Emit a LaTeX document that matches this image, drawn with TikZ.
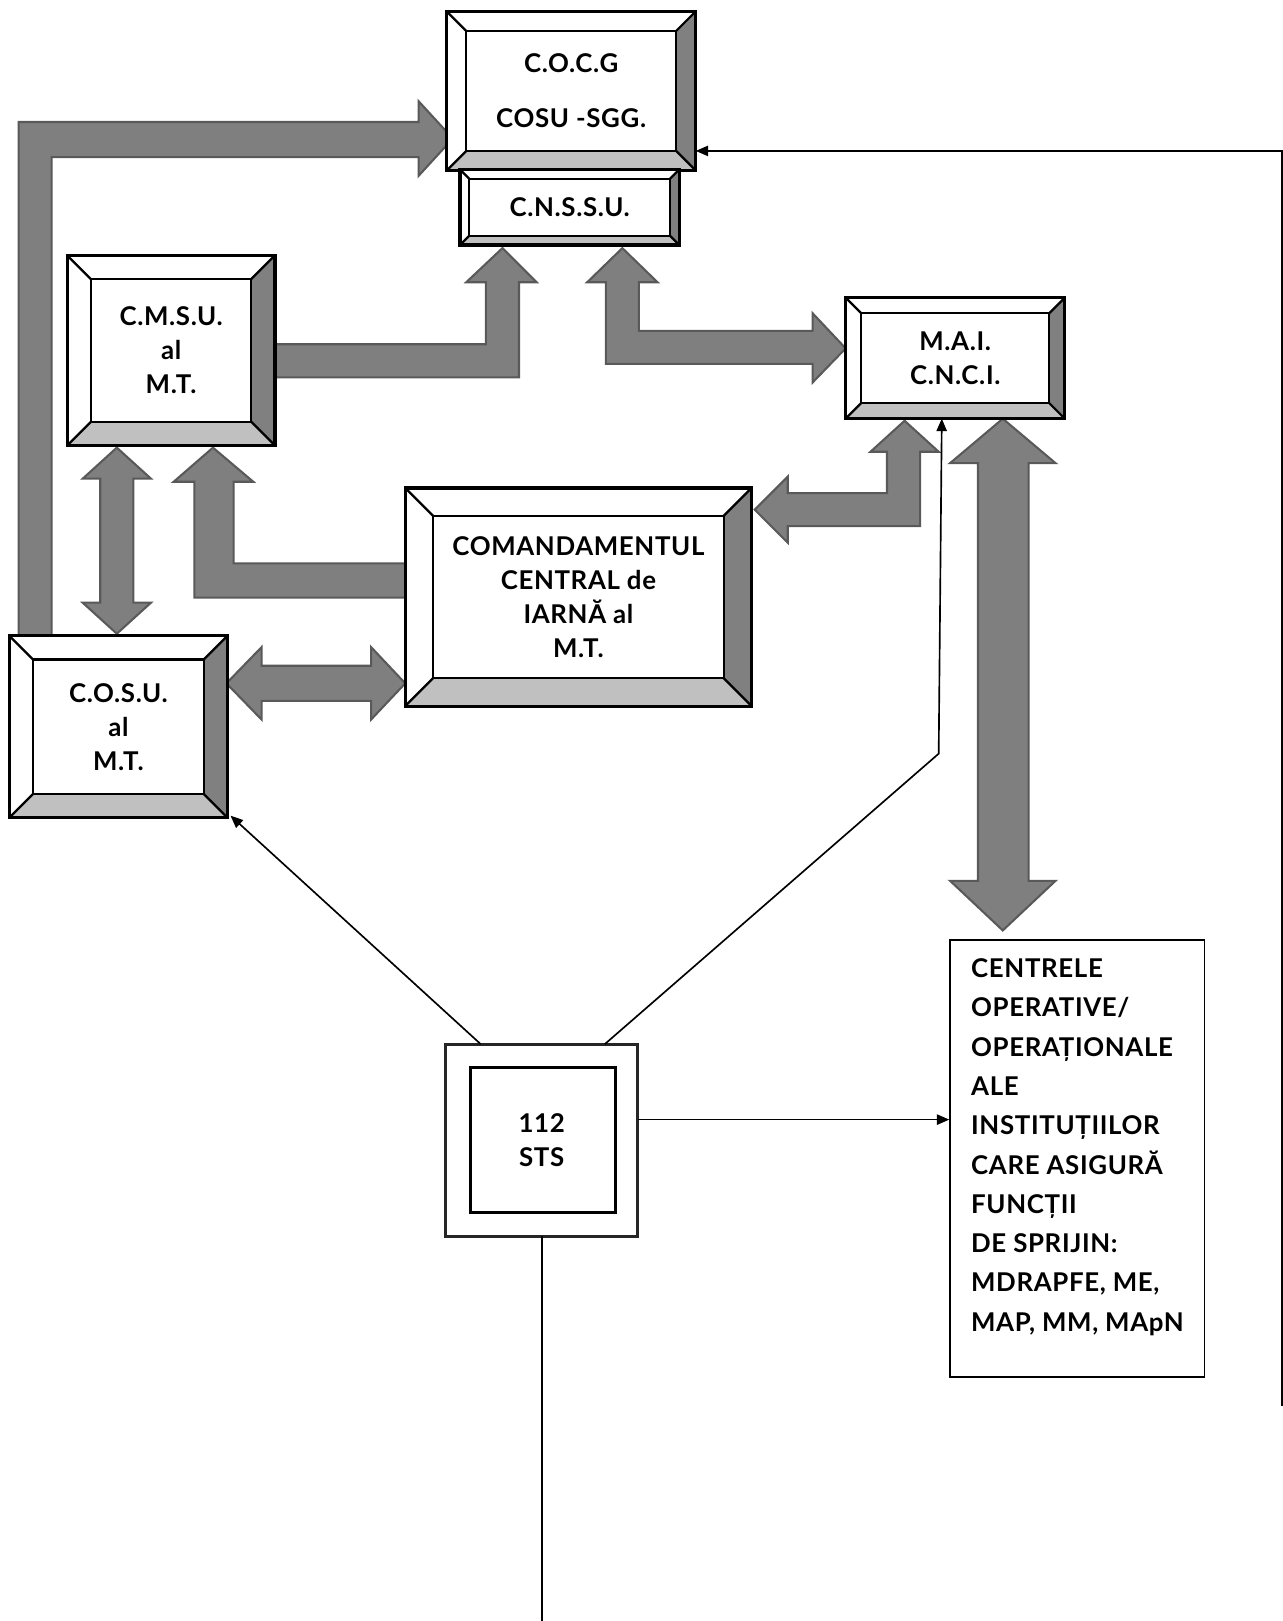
\documentclass[tikz,border=0pt]{standalone}
\usepackage{fontspec}
\setmainfont{Lato}[LetterSpace=2.5]
\usetikzlibrary{arrows.meta,calc}
\definecolor{bevdark}{HTML}{808080}
\definecolor{bevlight}{HTML}{C0C0C0}
\definecolor{blockfill}{HTML}{7F7F7F}
\definecolor{blockline}{HTML}{595959}
\tikzset{
  innerline/.style={draw=black,line width=1.1pt},
  outerline/.style={draw=black,line width=1.5pt},
  boxtext/.style={inner sep=0pt,outer sep=0pt,align=center,font=\fontsize{12.5}{16.5}\selectfont\bfseries},
  blockarrow/.style={fill=blockfill,draw=blockline,line width=1pt,line join=miter},
  conn/.style={draw=black,line width=0.8pt},
  arr/.style={conn,-{Triangle[length=6pt,width=5pt]}}
}
\newcommand{\bevbox}[7]{%
  \fill[white] (#2,#3) rectangle (#4,#5);
  \fill[bevdark] (#4,#3) -- (#4,#5) -- ({#4-#6},{#5-#6}) -- ({#4-#6},{#3+#6}) -- cycle;
  \fill[bevlight] (#2,#5) -- (#4,#5) -- ({#4-#6},{#5-#6}) -- ({#2+#6},{#5-#6}) -- cycle;
  \draw[innerline] ({#2+#6},{#3+#6}) rectangle ({#4-#6},{#5-#6});
  \draw[innerline] (#2,#3) -- ({#2+#6},{#3+#6}) (#4,#3) -- ({#4-#6},{#3+#6})
     (#2,#5) -- ({#2+#6},{#5-#6}) (#4,#5) -- ({#4-#6},{#5-#6});
  \node[boxtext,minimum width={(#4-#2)*0.5pt},minimum height={(#5-#3)*0.5pt}] (#1) at ({(#2+#4)/2},{(#3+#5)/2}) {#7};
  \draw[outerline] (#1.north west) rectangle (#1.south east);
}
\begin{document}
\begin{tikzpicture}[x=0.5pt,y=-0.5pt]
\useasboundingbox (0,0) rectangle (1241,1568);

% block arrows
\draw[blockarrow] (18,617) -- (18,118) -- (405,118) -- (405,98) -- (438,134) -- (405,170) -- (405,152) -- (50,152) -- (50,617) -- cycle;
\draw[blockarrow] (266,333) -- (470,333) -- (470,273) -- (451,273) -- (486,240) -- (519,273) -- (502,273) -- (502,365) -- (266,365) -- cycle;
\draw[blockarrow] (602,240) -- (636,273) -- (618,273) -- (618,320) -- (786,320) -- (786,303) -- (818,337) -- (786,370) -- (786,352) -- (586,352) -- (586,273) -- (568,273) -- cycle;
\draw[blockarrow] (875,407) -- (908,437) -- (890,437) -- (890,509) -- (762,509) -- (762,525) -- (730,493) -- (762,461) -- (762,477) -- (858,477) -- (858,437) -- (842,437) -- cycle;
\draw[blockarrow] (970,405) -- (1021,448) -- (995,448) -- (995,852) -- (1021,852) -- (970,900) -- (919,852) -- (946,852) -- (946,448) -- (919,448) -- cycle;
\draw[blockarrow] (113,433) -- (146,463) -- (129,463) -- (129,583) -- (146,583) -- (113,613) -- (80,583) -- (97,583) -- (97,463) -- (80,463) -- cycle;
\draw[blockarrow] (392,545) -- (226,545) -- (226,466) -- (245,466) -- (206,433) -- (168,466) -- (188,466) -- (188,578) -- (392,578) -- cycle;
\draw[blockarrow] (219,661) -- (253,626) -- (253,644) -- (359,644) -- (359,626) -- (392,661) -- (359,696) -- (359,678) -- (253,678) -- (253,696) -- cycle;

% beveled boxes
\bevbox{cocg}{432}{11}{673}{165}{19}{C.O.C.G\\[10pt]COSU -SGG.}
\bevbox{cnssu}{445}{164}{657}{237}{9}{C.N.S.S.U.}
\bevbox{cmsu}{65}{247}{266}{431}{23}{C.M.S.U.\\al\\M.T.}
\bevbox{mai}{818}{288}{1030}{405}{15}{M.A.I.\\C.N.C.I.}
\bevbox{cci}{392}{472}{727}{683}{27}{COMANDAMENTUL\\CENTRAL de\\IARNĂ al\\M.T.}
\bevbox{cosu}{9}{615}{220}{791}{23}{C.O.S.U.\\al\\M.T.}

% 112 STS
\node[boxtext,minimum width=93pt,minimum height=93pt,draw=black!85,line width=1.5pt,fill=white] (sts) at (524,1103) {112\\STS};
\draw[innerline,line width=1.5pt] (455,1033) rectangle (595,1173);

% centrele
\node[minimum width=123pt,minimum height=211.5pt,draw=black,line width=0.8pt,inner sep=0pt] (centrele) at (1042,1120.5) {};
\node[anchor=north west,align=left,inner sep=0pt,font=\fontsize{12.5}{19}\selectfont\bfseries] (centreletext) at (939,927)
 {CENTRELE\\OPERATIVE/\\OPERAȚIONALE\\ALE\\INSTITUȚIILOR\\CARE ASIGURĂ\\FUNCȚII\\DE SPRIJIN:\\MDRAPFE, ME,\\MAP, MM, MApN};

% thin connectors
\draw[arr] ($(sts.north west)+(34,0)$) -- ($(cosu.south east)+(3,-2)$);
\coordinate (bend) at (908,729);
\draw[arr] ($(sts.north west)+(154,0)$) -- (bend) -- ($(mai.south)+(-13,0)$);
\coordinate (c1) at ($(sts.east)+(0,-20)$);
\draw[arr] (c1) -- (c1 -| centrele.west);
\coordinate (bottomend) at (524,1568);
\draw[conn] (sts.south) -- (bottomend);
\coordinate (r1) at (1240,1360);
\coordinate (c2) at ($(cocg.south east)+(0,-19)$);
\draw[arr] (r1) |- (c2);
\end{tikzpicture}
\end{document}
